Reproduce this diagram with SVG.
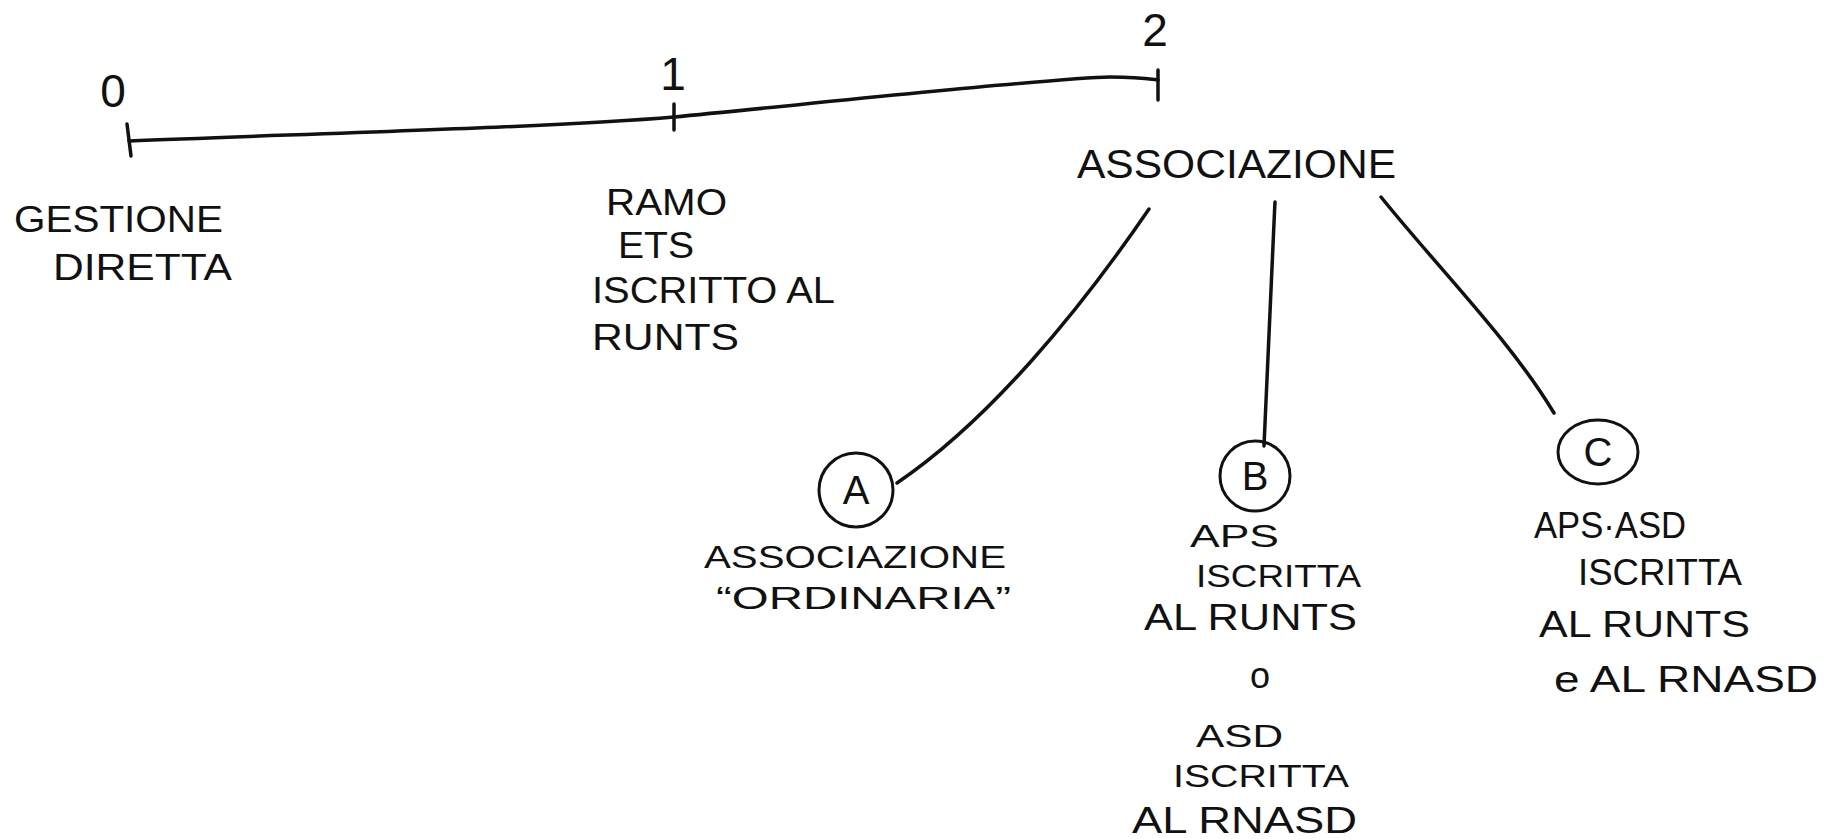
<svg xmlns="http://www.w3.org/2000/svg" width="1839" height="839" viewBox="0 0 1839 839">
<style>
.t{font-family:"Liberation Sans","DejaVu Sans",sans-serif;font-size:36px;fill:#111;}
.s{font-family:"Liberation Sans","DejaVu Sans",sans-serif;font-size:32px;fill:#111;}
.n{font-family:"Liberation Sans","DejaVu Sans",sans-serif;font-size:46px;fill:#111;}
.k{font-family:"Liberation Sans","DejaVu Sans",sans-serif;font-size:40px;fill:#111;}
.l{fill:none;stroke:#111;stroke-width:3.5;stroke-linecap:round;}
.c{fill:none;stroke:#111;stroke-width:3;}
</style>
<rect width="1839" height="839" fill="#fff"/>
<g id="connectors">
<path class="l" d="M129,141 C 300,134 560,127 674,117 C 800,105 1050,78 1110,77 C 1140,77 1150,79 1158,80"/>
<path class="l" d="M1149,209 C 1080,310 990,420 897,483"/>
<path class="l" d="M1275,202 C 1270,300 1266,400 1264,446"/>
<path class="l" d="M1381,197 C 1440,270 1510,340 1554,413"/>
</g>
<g id="node0">
<path class="l" d="M127,124 L131,156"/>
<text class="n" x="113" y="107" text-anchor="middle">0</text>
<text class="t" x="14" y="232" textLength="209" lengthAdjust="spacingAndGlyphs">GESTIONE</text>
<text class="t" x="53" y="280" textLength="179" lengthAdjust="spacingAndGlyphs">DIRETTA</text>
</g>
<g id="node1">
<path class="l" d="M674,104 L674,130"/>
<text class="n" x="673" y="90" text-anchor="middle">1</text>
<text class="t" x="606" y="215" textLength="121" lengthAdjust="spacingAndGlyphs">RAMO</text>
<text class="t" x="618" y="258" textLength="76" lengthAdjust="spacingAndGlyphs">ETS</text>
<text class="t" x="592" y="303" textLength="243" lengthAdjust="spacingAndGlyphs">ISCRITTO AL</text>
<text class="t" x="592" y="350" textLength="147" lengthAdjust="spacingAndGlyphs">RUNTS</text>
</g>
<g id="node2">
<path class="l" d="M1158,70 L1158,100"/>
<text class="n" x="1155" y="46" text-anchor="middle">2</text>
<text class="k" x="1077" y="178" textLength="319" lengthAdjust="spacingAndGlyphs">ASSOCIAZIONE</text>
</g>
<g id="nodeA">
<circle class="c" cx="856" cy="490" r="37"/>
<text class="k" x="856" y="504" text-anchor="middle">A</text>
<text class="s" x="704" y="568" textLength="302" lengthAdjust="spacingAndGlyphs">ASSOCIAZIONE</text>
<text class="s" x="716" y="609" textLength="295" lengthAdjust="spacingAndGlyphs">“ORDINARIA”</text>
</g>
<g id="nodeB">
<circle class="c" cx="1255" cy="476" r="35"/>
<text class="k" x="1255" y="490" text-anchor="middle">B</text>
<text class="s" x="1190" y="547" textLength="89" lengthAdjust="spacingAndGlyphs">APS</text>
<text class="s" x="1196" y="587" textLength="165" lengthAdjust="spacingAndGlyphs">ISCRITTA</text>
<text class="t" x="1144" y="630" textLength="213" lengthAdjust="spacingAndGlyphs">AL RUNTS</text>
<text class="t" x="1260" y="688" text-anchor="middle">o</text>
<text class="s" x="1196" y="747" textLength="87" lengthAdjust="spacingAndGlyphs">ASD</text>
<text class="s" x="1173" y="787" textLength="176" lengthAdjust="spacingAndGlyphs">ISCRITTA</text>
<text class="t" x="1132" y="833" textLength="225" lengthAdjust="spacingAndGlyphs">AL RNASD</text>
</g>
<g id="nodeC">
<ellipse class="c" cx="1598" cy="452" rx="40" ry="32"/>
<text class="k" x="1598" y="466" text-anchor="middle">C</text>
<text class="t" x="1534" y="538" textLength="152" lengthAdjust="spacingAndGlyphs">APS·ASD</text>
<text class="t" x="1578" y="585" textLength="164" lengthAdjust="spacingAndGlyphs">ISCRITTA</text>
<text class="t" x="1539" y="637" textLength="211" lengthAdjust="spacingAndGlyphs">AL RUNTS</text>
<text class="t" x="1554" y="692" textLength="264" lengthAdjust="spacingAndGlyphs">e AL RNASD</text>
</g>
</svg>
